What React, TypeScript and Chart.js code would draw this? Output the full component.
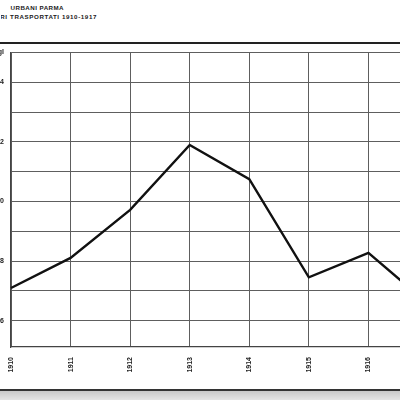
import React, { useEffect, useRef } from 'react';
import { Chart, registerables } from 'chart.js';

Chart.register(...registerables);

const years = ['1910', '1911', '1912', '1913', '1914', '1915', '1916', '1917'];
const passengers = [7.1, 8.11, 9.72, 11.9, 10.75, 7.46, 8.28, 6.57];
const yTickValues = [6, 7, 8, 9, 10, 11, 12, 13, 14, 15];
const yTickLabels = ['6', '', '8', '', '10', '', '12', '', '14', 'mgl'];
const titleLine1 = 'TRAMWAYS URBANI PARMA';
const titleLine2 = 'VIAGGIATORI TRASPORTATI 1910-1917';

const FONT = "'Liberation Sans', Arial, sans-serif";

export default function App() {
  const ref = useRef<HTMLCanvasElement>(null);

  useEffect(() => {
    const grid = '#5e5e5e';
    const chart = new Chart(ref.current as HTMLCanvasElement, {
      type: 'line',
      data: {
        labels: years,
        datasets: [
          {
            data: passengers,
            borderColor: '#111',
            borderWidth: 2.4,
            pointRadius: 0,
            tension: 0,
            fill: false,
          },
        ],
      },
      options: {
        animation: false,
        responsive: false,
        maintainAspectRatio: false,
        layout: { padding: { top: 52.5, right: 32, bottom: 0, left: 0 } },
        plugins: {
          legend: { display: false },
          tooltip: { enabled: false },
          title: { display: false },
        },
        scales: {
          x: {
            offset: false,
            grid: { color: grid, lineWidth: 1, drawTicks: false },
            border: { color: '#444', width: 1.2 },
            ticks: {
              autoSkip: false,
              minRotation: 90,
              maxRotation: 90,
              padding: 10,
              color: '#222',
              font: { family: FONT, size: 7, weight: 'bold' },
            },
            afterFit: (s: any) => {
              s.height = 53;
            },
          },
          y: {
            min: 5.12,
            max: 15,
            afterBuildTicks: (s: any) => {
              s.ticks = yTickValues.map((v) => ({ value: v }));
            },
            grid: { color: grid, lineWidth: 1, drawTicks: false },
            border: { color: '#444', width: 1.2 },
            ticks: {
              padding: 7,
              color: '#222',
              font: { family: FONT, size: 7, weight: 'bold' },
              callback: (v: any) => {
                const i = yTickValues.indexOf(Number(v));
                return i >= 0 ? yTickLabels[i] : '';
              },
            },
            afterFit: (s: any) => {
              s.width = 51;
            },
          },
        },
      },
    });
    return () => chart.destroy();
  }, []);

  const titleStyle: React.CSSProperties = {
    position: 'absolute',
    whiteSpace: 'nowrap',
    textAlign: 'right',
    fontFamily: FONT,
    fontWeight: 'bold',
    fontSize: '6.2px',
    letterSpacing: '0.45px',
    lineHeight: '7px',
    color: '#1a1a1a',
  };

  const clip = (left: number, top: number): React.CSSProperties => ({
    position: 'absolute',
    left,
    top,
    width: 200,
    height: 8,
    overflow: 'hidden',
  });

  return (
    <div
      style={{
        position: 'fixed',
        left: 0,
        top: 0,
        width: 400,
        height: 400,
        overflow: 'hidden',
        background: '#fff',
      }}
    >
      <div style={clip(9, 4)}>
        <div style={{ ...titleStyle, right: 200 - 64 + 9, top: 0 }}>{titleLine1}</div>
      </div>
      <div style={clip(1, 13)}>
        <div style={{ ...titleStyle, letterSpacing: '0.6px', right: 200 - 97 + 1, top: 0 }}>{titleLine2}</div>
      </div>
      <div style={{ position: 'absolute', left: 0, top: 42, width: 400, height: 2, background: '#222' }} />
      <canvas
        ref={ref}
        width={500}
        height={400}
        style={{ position: 'absolute', left: -40, top: 0, width: 500, height: 400 }}
      />
      <div style={{ position: 'absolute', left: 0, top: 389, width: 400, height: 2, background: '#333' }} />
      <div
        style={{
          position: 'absolute',
          left: 0,
          top: 391,
          width: 400,
          height: 9,
          background: 'linear-gradient(#c8c8c8, #e4e4e4)',
        }}
      />
    </div>
  );
}
